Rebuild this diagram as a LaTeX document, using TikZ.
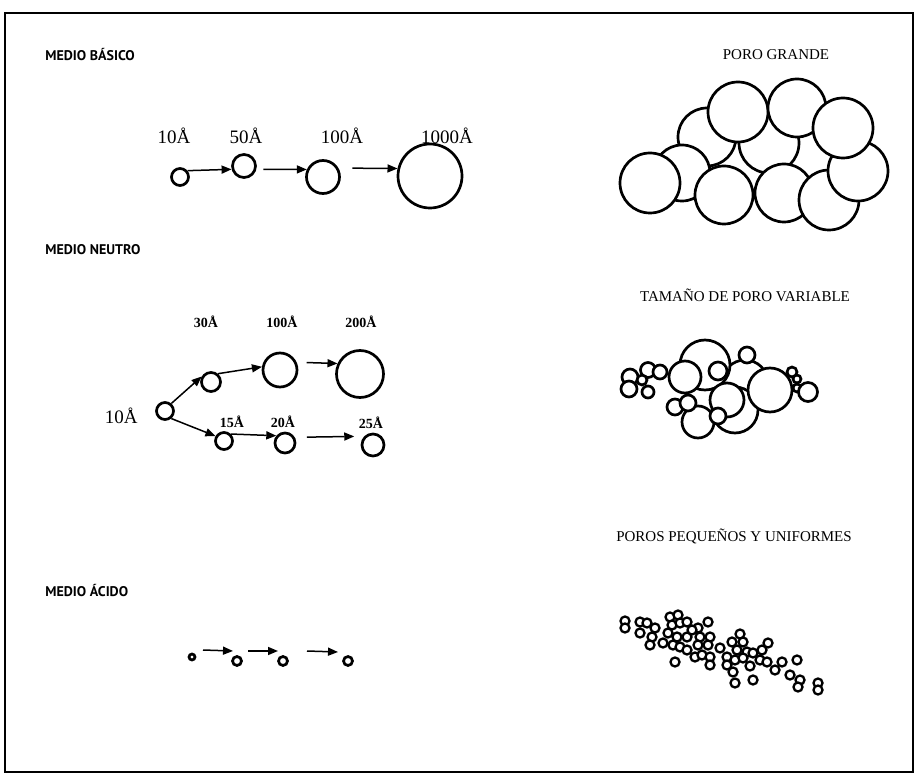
\documentclass[tikz,border=0pt]{standalone}
\usepackage{fontspec}
\setmainfont{Liberation Serif}
\newfontfamily\rotulo{PT Sans}
\usetikzlibrary{arrows.meta}

\begin{document}
\begin{tikzpicture}[x=0.5pt, y=-0.5pt,
  poro/.style = {circle, draw, line width=1.35pt, inner sep=0pt},
  grano/.style = {draw, fill=white, line width=1.35pt},
  flecha/.style = {line width=0.75pt, -{Triangle[length=5pt, width=4pt]}},
  medio/.style = {anchor=west, inner sep=0pt, font=\rotulo\bfseries\fontsize{7}{8}\selectfont},
  tam/.style = {inner sep=0pt, font=\fontsize{9.5}{11}\selectfont},
  tamb/.style = {inner sep=0pt, font=\bfseries\fontsize{7}{8}\selectfont},
  titulo/.style = {inner sep=0pt, font=\fontsize{7.5}{9}\selectfont}
  ]
\useasboundingbox (0,0) rectangle (916,775);
\draw[line width=1.3pt] (5,13) rectangle (913,772);

% medio basico
\node (basico) [medio] at (45,55) {MEDIO BÁSICO};
\node (b10)   [poro, minimum size=8.5pt] at (180,177) {};
\node (b50)   [poro, minimum size=11.5pt] at (244,166) {};
\node (b100)  [poro, minimum size=16.5pt] at (323,177) {};
\node (b1000) [poro, minimum size=32pt] at (430,176) {};
\node (tb10)   [tam] at (174,136) {10Å};
\node (tb50)   [tam] at (246,136) {50Å};
\node (tb100)  [tam] at (342,136) {100Å};
\node (tb1000) [tam] at (447,136) {1000Å};
\draw [flecha] (b10.40) -- (b50.195);
\draw [flecha, shorten <=3.5pt] (b50.345) -- (b100.155);
\draw [flecha, shorten <=7pt] (b100.30) -- (b1000.167);

% medio neutro
\node (neutro) [medio] at (45,250) {MEDIO NEUTRO};
\node (n10)  [poro, minimum size=8.5pt] at (165,411) {};
\node (n30)  [poro, minimum size=9.5pt] at (211,382) {};
\node (n100) [poro, minimum size=17pt] at (280,370) {};
\node (n200) [poro, minimum size=23.5pt] at (360,374) {};
\node (n15)  [poro, minimum size=8.5pt] at (224,441) {};
\node (n20)  [poro, minimum size=10pt] at (285,443) {};
\node (n25)  [poro, minimum size=11pt] at (373,445) {};
\node (tn10)  [tam, anchor=east] at (138,416) {10Å};
\node (tn30)  [tamb] at (206,322) {30Å};
\node (tn100) [tamb] at (282,322) {100Å};
\node (tn200) [tamb] at (361,322) {200Å};
\node (tn15)  [tamb] at (232,422) {15Å};
\node (tn20)  [tamb] at (283,422) {20Å};
\node (tn25)  [tamb] at (371,423) {25Å};
\draw [flecha] (n10.50) -- (n30.150);
\draw [flecha] (n10.-50) -- (n15.150);
\draw [flecha] (n30.50) -- (n100.170);
\draw [flecha, shorten <=5pt] (n100.25) -- (n200.155);
\draw [flecha] (n15.45) -- (n20.140);
\draw [flecha, shorten <=6pt, shorten >=5pt] (n20.30) -- (n25.135);

% medio acido
\node (acido) [medio] at (45,591) {MEDIO ÁCIDO};
\node (a1) [poro, minimum size=3pt] at (192,657) {};
\node (a2) [poro, minimum size=4.5pt] at (237,661) {};
\node (a3) [poro, minimum size=4.5pt] at (283,661) {};
\node (a4) [poro, minimum size=4.5pt] at (348,661) {};
\draw [flecha] ([shift={(11,-7)}]a1.center) -- ([shift={(-4,-10)}]a2.center);
\draw [flecha] ([shift={(11,-10)}]a2.center) -- ([shift={(-5,-10)}]a3.center);
\draw [flecha] ([shift={(24,-10)}]a3.center) -- ([shift={(-10,-9)}]a4.center);

% poro grande
\node (grande) [titulo] at (776,55) {PORO GRANDE};
\foreach \x/\y/\r in {769/143/30, 707/137/29, 682/173/28, 650/183/30,
    724/195/29, 784/193/29, 738/112/30, 797/108/29, 829/200/30,
    858/171/30, 843/128/30}
  \draw [grano] (\x,\y) circle (\r);

% tamano de poro variable
\node (variable) [titulo] at (745,295) {TAMAÑO DE PORO VARIABLE};
\foreach \x/\y/\r in {745/383/23, 705/365/25, 735/410/23, 770/390/22,
    747/355/8, 718/371/9, 685/377/16, 727/400/17, 698/422/16,
    675/407/8, 688/403/8, 718/416/8,
    630/377/8, 648/370/7.5, 660/372/7, 629/389/8, 648/392/6, 642/380/5,
    792/372/5, 797/379/4, 797/388/4, 808/392/9.5}
  \draw [grano] (\x,\y) circle (\r);

% poros pequenos y uniformes
\node (uniformes) [titulo] at (734,536) {POROS PEQUEÑOS Y UNIFORMES};
\foreach \x/\y in {625/621, 625/628, 640/622, 647/623, 640/633, 652/637, 650/645,
    670/617, 678/615, 672/625, 680/623, 687/622, 668/633, 677/637, 687/637,
    663/643, 673/645, 680/647, 687/650, 675/662, 698/628, 708/622, 700/637,
    710/637, 698/645, 708/645, 695/657, 702/655, 710/657, 710/665,
    740/634, 732/642, 743/642, 737/650, 747/652, 727/657, 735/660, 743/658,
    753/653, 727/665, 733/672, 735/683, 753/680, 762/650, 768/643, 760/660,
    767/662, 775/670, 782/662, 797/660, 790/675, 800/680, 798/687, 818/683,
    818/690, 692/630, 655/628, 720/648, 750/666}
  \draw [grano, line width=1.15pt] (\x,\y) circle (4.5);
\end{tikzpicture}
\end{document}
